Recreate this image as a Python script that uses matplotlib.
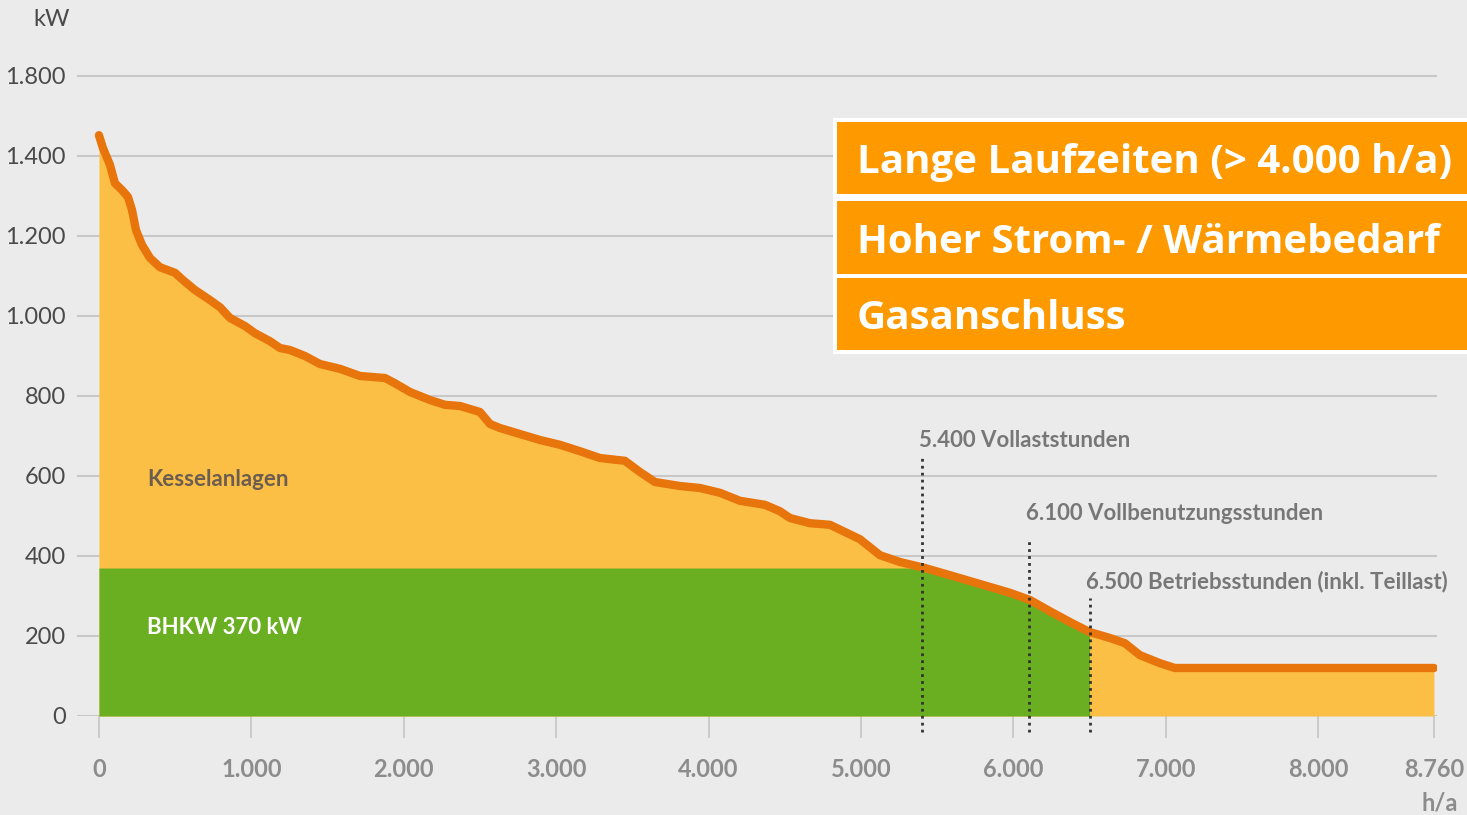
import numpy as np
import matplotlib.pyplot as plt
from matplotlib.patches import Rectangle

# load duration curve (h/a vs kW)
hours = [0, 26, 72, 105, 151, 190, 217, 243, 282, 335, 400, 499, 551, 630, 728, 794,
         860, 958, 1024, 1122, 1188, 1253, 1352, 1450, 1581, 1713, 1877, 1942, 2041,
         2172, 2270, 2369, 2500, 2566, 2631, 2762, 2894, 3025, 3156, 3287, 3451, 3550,
         3648, 3812, 3944, 4075, 4206, 4370, 4468, 4534, 4665, 4797, 4895, 4993, 5059,
         5125, 5256, 5420, 5584, 5781, 5978, 6109, 6240, 6371, 6500, 6634, 6732, 6831,
         6962, 7060, 8760]
load_kw = [1452, 1420, 1378, 1332, 1315, 1298, 1265, 1215, 1178, 1145, 1122, 1108, 1090,
           1065, 1040, 1022, 995, 975, 957, 937, 920, 915, 900, 880, 868, 850, 845, 832,
           810, 790, 778, 775, 760, 730, 720, 705, 690, 678, 662, 645, 638, 610, 585,
           575, 570, 558, 538, 528, 512, 495, 482, 478, 460, 442, 422, 402, 385, 370,
           352, 330, 308, 290, 262, 235, 210, 195, 182, 152, 132, 120, 120]

bhkw_kw = 370
bhkw_hours = 6500

xtick_vals = [0, 1000, 2000, 3000, 4000, 5000, 6000, 7000, 8000, 8760]
xtick_labels = ["0", "1.000", "2.000", "3.000", "4.000", "5.000", "6.000", "7.000", "8.000", "8.760"]
ytick_vals = [0, 200, 400, 600, 800, 1000, 1200, 1400, 1600]
ytick_labels = ["0", "200", "400", "600", "800", "1.000", "1.200", "1.400", "1.800"]

markers = [(5400, "5.400 Vollaststunden", 652),
           (6100, "6.100 Vollbenutzungsstunden", 440),
           (6500, "6.500 Betriebsstunden (inkl. Teillast)", 295)]
marker_text_y = [688, 505, 335]

box_lines = ["Lange Laufzeiten (> 4.000 h/a)", "Hoher Strom- / Wärmebedarf", "Gasanschluss"]

W, H = 1467, 815
bg = "#ebebeb"
fig = plt.figure(figsize=(W / 100, H / 100), dpi=100, facecolor=bg)
ax = fig.add_axes([77 / W, 1 - 716 / H, (1437 - 77) / W, (716 - 56) / H])
ax.set_facecolor(bg)

x = np.array(hours, dtype=float)
y = np.array(load_kw, dtype=float)

ax.fill_between(x, 0, y, color="#fbbf45", lw=0, zorder=2)
m = x <= bhkw_hours
ax.fill_between(x[m], 0, np.minimum(y[m], bhkw_kw), color="#6aaf22", lw=0, zorder=3)
ax.plot(x, y, color="#e8740c", lw=6, solid_joinstyle="round", solid_capstyle="round", zorder=5)

ax.set_xlim(-144, 8780)
ax.set_ylim(0, 1650)

for s in ax.spines.values():
    s.set_visible(False)
ax.set_axisbelow(True)
ax.yaxis.grid(True, color="#c8c8c8", lw=1.5)

ax.set_xticks(xtick_vals)
ax.set_xticklabels(xtick_labels, fontsize=17, fontweight="bold", color="#8c8c8c", family="Lato")
ax.tick_params(axis="x", direction="out", length=16, width=1.3, color="#c8c8c8", pad=14)
ax.set_yticks(ytick_vals)
ax.set_yticklabels(ytick_labels, fontsize=17, color="#4a4a4a", family="Lato")
ax.tick_params(axis="y", length=0, pad=8)

fig.text(52 / W, 1 - 20 / H, "kW", ha="center", va="center", fontsize=17,
         color="#4a4a4a", family="Lato")
fig.text(1440 / W, 1 - 803 / H, "h/a", ha="center", va="center", fontsize=17,
         color="#8c8c8c", family="Lato", fontweight="bold")

for (hx, label, ytop), ty in zip(markers, marker_text_y):
    ax.plot([hx, hx], [-40, ytop], color="#333333", lw=2, ls=(0, (1, 1.5)), zorder=6, clip_on=False)
    ax.text(hx - 20, ty, label, ha="left", va="center", fontsize=16, color="#777777",
            family="Lato", fontweight="bold", zorder=6)

ax.text(315, 592, "Kesselanlagen", fontsize=16, color="#6b5d50", family="Lato",
        fontweight="bold", va="center", zorder=6)
ax.text(315, 220, "BHKW 370 kW", fontsize=16, color="white", family="Lato",
        fontweight="bold", va="center", zorder=6)

# orange info boxes in the upper right
fig.add_artist(Rectangle((833 / W, 1 - 354 / H), (W - 833) / W, (354 - 118) / H,
                         transform=fig.transFigure, facecolor="white", lw=0))
rows = [(122, 194), (201, 274), (278, 350)]
for (top, bot), txt in zip(rows, box_lines):
    fig.add_artist(Rectangle((837 / W, 1 - bot / H), (W - 837) / W, (bot - top) / H,
                             transform=fig.transFigure, facecolor="#fe9a00", lw=0))
    fig.text(857 / W, 1 - ((top + bot) / 2 + 5) / H, txt, ha="left", va="center", fontsize=29,
             color="white", fontweight="bold", family="Open Sans")

fig.savefig("out.png", dpi=100, facecolor=bg)
